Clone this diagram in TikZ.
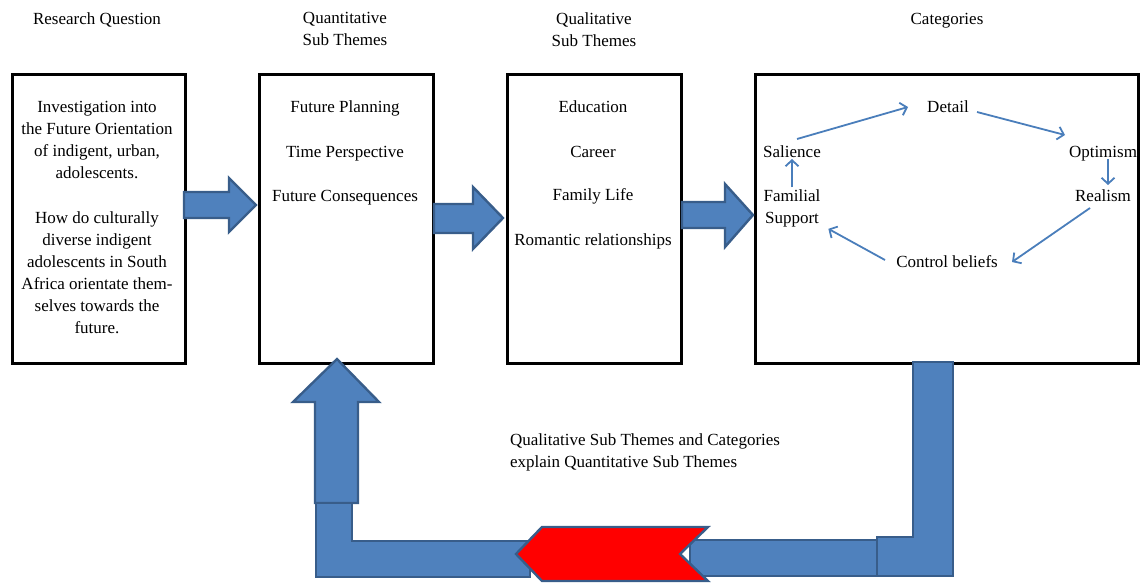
\documentclass[tikz,border=0pt]{standalone}
\usepackage{fontspec}
\setmainfont{Liberation Serif}
\usetikzlibrary{arrows.meta,calc}
\definecolor{bfill}{RGB}{79,129,189}
\definecolor{bline}{RGB}{56,93,138}
\definecolor{aline}{RGB}{74,126,187}
\begin{document}
\begin{tikzpicture}[x=1pt,y=-1pt,
  txt/.style={font=\fontsize{17}{22}\selectfont, inner sep=0pt, outer sep=0pt},
  box/.style={draw=black, line width=3pt, inner sep=0pt, anchor=north west},
  blk/.style={fill=bfill, draw=bline, line width=2.4pt, line join=miter},
  redblk/.style={fill=red, draw=bline, line width=2.4pt, line join=miter},
  cyc/.style={draw=aline, line width=1.8pt, -{Straight Barb[length=6pt,width=13pt]}}]
\useasboundingbox (0,0) rectangle (1141,582);

% headings
\node[txt, anchor=base] (h1) at (97,24) {Research Question};
\node[txt, anchor=north, align=center] (h2) at (345,12.4) {Quantitative\\Sub Themes};
\node[txt, anchor=north, align=center] (h3) at (594,12.4) {Qualitative\\Sub Themes};
\node[txt, anchor=base] (h4) at (947,24) {Categories};

% boxes
\node[box, minimum width=173pt, minimum height=289pt] (b1) at (10.5,73) {};
\node[box, minimum width=174pt, minimum height=289pt] (b2) at (258,73) {};
\node[box, minimum width=174pt, minimum height=289pt] (b3) at (506,73) {};
\node[box, minimum width=383pt, minimum height=289pt] (b4) at (753.5,73) {};

% box 1 text
\node[txt, anchor=north, align=center] (t1) at (97,101.4) {Investigation into\\the Future Orientation\\of indigent, urban,\\adolescents.\\[23pt]How do culturally\\diverse indigent\\adolescents in South\\Africa orientate them-\\selves towards the\\future.};

% box 2 text
\node[txt, anchor=base] (q1) at (345,112) {Future Planning};
\node[txt, anchor=base] (q2) at (345,157) {Time Perspective};
\node[txt, anchor=base] (q3) at (345,201) {Future Consequences};

% box 3 text
\node[txt, anchor=base] (l1) at (593,112) {Education};
\node[txt, anchor=base] (l2) at (593,157) {Career};
\node[txt, anchor=base] (l3) at (593,200.5) {Family Life};
\node[txt, anchor=base] (l4) at (593,245) {Romantic relationships};

% categories
\node[txt, anchor=base] (det) at (948,112) {Detail};
\node[txt, anchor=base] (sal) at (792,157) {Salience};
\node[txt, anchor=base] (opt) at (1103,157) {Optimism};
\node[txt, anchor=base] (rea) at (1103,201) {Realism};
\node[txt, anchor=north, align=center] (fam) at (792,189.4) {Familial\\Support};
\node[txt, anchor=base] (con) at (947,267) {Control beliefs};

\draw[cyc] ($(sal.base)+(5,-18)$) -- ($(det.base)+(-40,-5)$);
\draw[cyc] ($(det.base)+(29,0)$) -- ($(opt.base)+(-38,-22)$);
\draw[cyc] ($(opt.base)+(5,2)$) -- ($(rea.base)+(5,-16)$);
\draw[cyc] ($(rea.base)+(-13,7)$) -- ($(con.base)+(65,-5)$);
\draw[cyc] ($(con.base)+(-62,-7)$) -- ($(fam.south east)+(8,2)$);
\draw[cyc] ($(fam.north)+(0,-2)$) -- ($(sal.base)+(0,2)$);

% block arrows between boxes
\draw[blk] (184,192) -- (229,192) -- (229,178) -- (256,205) -- (229,232) -- (229,218) -- (184,218) -- cycle;
\draw[blk] (434,204) -- (473,204) -- (473,187) -- (503,218) -- (473,249) -- (473,233) -- (434,233) -- cycle;
\draw[blk] (682,202) -- (725,202) -- (725,184) -- (753,215) -- (725,247) -- (725,228) -- (682,228) -- cycle;

% feedback arrow
\draw[blk] (337,359) -- (379,402) -- (358,402) -- (358,503) -- (315,503) -- (315,402) -- (293,402) -- cycle;
\draw[blk] (316,503) -- (352,503) -- (352,541) -- (530,541) -- (530,577) -- (316,577) -- cycle;
\draw[blk] (690,540) -- (877,540) -- (877,576) -- (690,576) -- cycle;
\draw[blk] (913,362) -- (953,362) -- (953,576) -- (877,576) -- (877,537) -- (913,537) -- cycle;
\draw[redblk] (516,554) -- (542,527) -- (708,527) -- (680,554) -- (708,581) -- (542,581) -- cycle;

\node[txt, anchor=north west, align=left] (note) at (510,433.4) {Qualitative Sub Themes and Categories\\explain Quantitative Sub Themes};
\end{tikzpicture}
\end{document}
